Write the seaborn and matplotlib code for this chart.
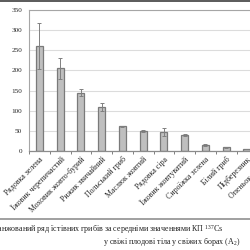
import matplotlib
matplotlib.use("Agg")
import matplotlib.pyplot as plt
from matplotlib.lines import Line2D
from matplotlib.ticker import FixedLocator
import seaborn as sns
import pandas as pd

categories = ["Рядовка зелена", "Їжовик черепичастий", "Моховик жовто-бурий",
              "Рижик звичайний", "Польський гриб", "Маслюк жовтий",
              "Рядовка сіра", "Їжовик жовтуватий", "Сироїжка зелена",
              "Білий гриб", "Підберезник", "Опеньок осінній"]
values = [260, 205, 145, 109, 61, 50, 46, 39, 15, 9, 5, 3]
errors = [57, 27, 9, 10, 2, 2, 10, 2, 1.5, 1, 1, 1]
y_ticks = [0, 50, 100, 150, 200, 250, 300, 350]
caption1 = "Ранжований ряд їстівних грибів за середніми значеннями КП $^{137}$Cs"
caption2 = "у свіжі плодові тіла у свіжих борах (A$_2$)"

sns.set_theme(style="white")
plt.rcParams['font.family'] = ['Liberation Serif', 'DejaVu Serif']
plt.rcParams['mathtext.fontset'] = 'custom'
plt.rcParams['mathtext.rm'] = 'Liberation Serif'
plt.rcParams['mathtext.it'] = 'Liberation Serif'

df = pd.DataFrame({"cat": categories, "val": values})

fig = plt.figure(figsize=(2.5, 2.5), dpi=100)
W = 250.0
ax = fig.add_axes([29 / W, 99 / W, 249 / W, 141 / W])
sns.barplot(data=df, x="cat", y="val", ax=ax, color="#bfbfbf",
            edgecolor="#7a7a7a", linewidth=0.9, width=0.33, saturation=1)
ax.errorbar(x=list(range(len(values))), y=values, yerr=errors, fmt="none",
            ecolor="#808080", elinewidth=0.7, capsize=1.6, capthick=0.7)

ax.set_ylim(0, 350)
ax.set_xlim(-0.5, len(categories) - 0.5)
ax.set_yticks(y_ticks)
ax.set_yticklabels([str(t) for t in y_ticks], fontsize=5.2)
ax.set_xticks(range(len(categories)))
ax.set_xticklabels(categories, fontsize=5.7, rotation=45, ha="right",
                   rotation_mode="anchor")
ax.tick_params(axis="x", length=0, pad=3)
ax.tick_params(axis="y", length=0, pad=5)
ax.xaxis.set_minor_locator(FixedLocator([i + 0.5 for i in range(-1, len(categories))]))
ax.tick_params(axis="x", which="minor", length=2.2, width=0.7, color="#808080",
               direction="out", bottom=True)
ax.set_xlabel("")
ax.set_ylabel("")
ax.yaxis.grid(True, color="#dcdcdc", lw=0.8)
ax.set_axisbelow(True)
for s in ["top", "left", "right"]:
    ax.spines[s].set_color("#a6a6a6")
    ax.spines[s].set_linewidth(0.8)
ax.spines["bottom"].set_color("#8c8c8c")
ax.spines["bottom"].set_linewidth(0.9)

fig.add_artist(Line2D([0, 1], [1 - 0.8 / W] * 2, color="#5a5a5a", lw=1.4,
                      transform=fig.transFigure))
fig.add_artist(Line2D([0, 1], [1 - 219 / W] * 2, color="#a0a0a0", lw=1.4,
                      transform=fig.transFigure))
fig.text(-7 / W, 1 - 229 / W, caption1, fontsize=5.8, ha="left", va="center",
         color="#222222")
fig.text(172 / W, 1 - 242 / W, caption2, fontsize=5.8, ha="center", va="center",
         color="#222222")

fig.savefig("out.png", dpi=100)
